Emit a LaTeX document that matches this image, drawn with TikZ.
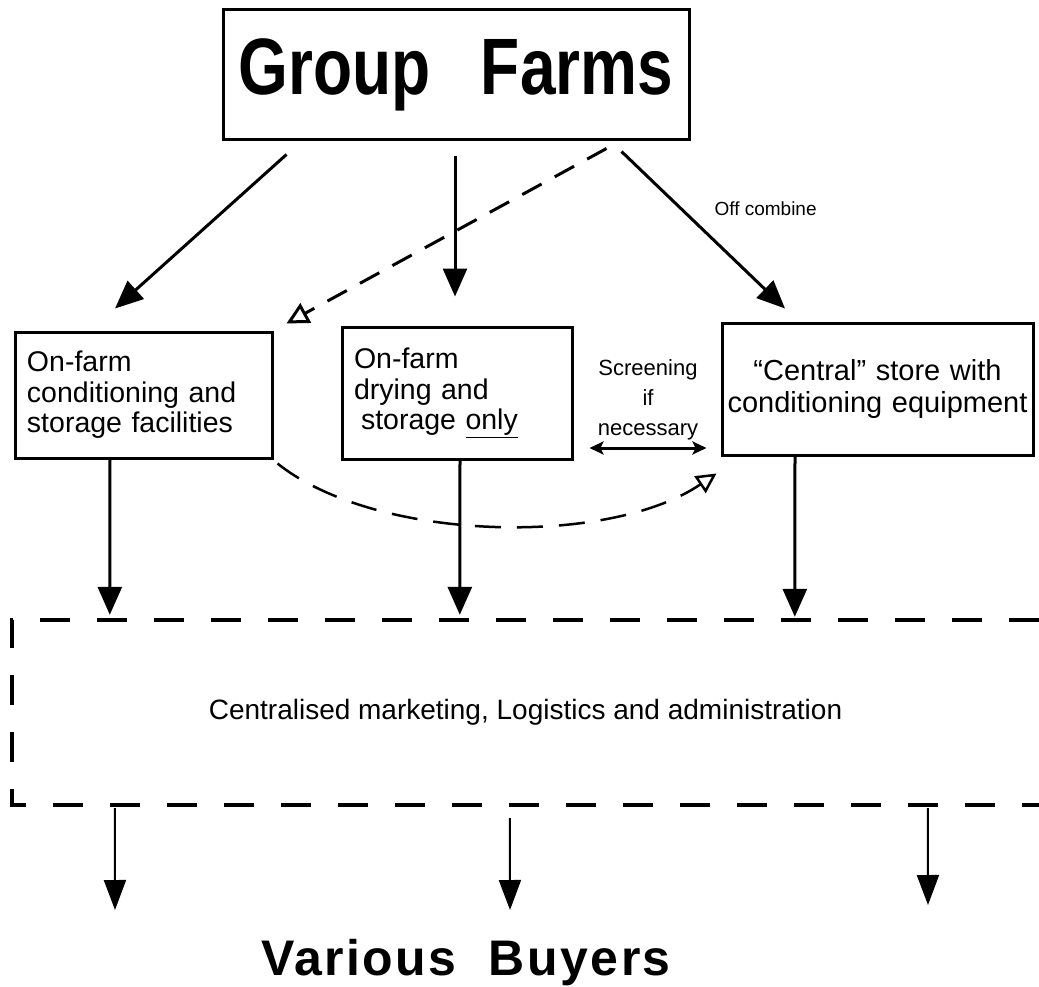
\documentclass[tikz,border=0pt]{standalone}
\usepackage{fontspec}
\setmainfont{Liberation Sans}
\newfontfamily\headfont[FakeStretch=0.8]{Liberation Sans}
\newfontfamily\buyfont[LetterSpace=5]{Liberation Sans}
\usetikzlibrary{arrows.meta}

\begin{document}
\begin{tikzpicture}[x=1pt,y=-1pt,
    store/.style={draw,line width=3pt,inner sep=12pt,minimum height=126pt,
        font={\fontsize{28.5}{30.5}\selectfont}},
    flow/.style={-{Triangle[length=28pt,width=24pt]},line width=3pt},
    dflow/.style={-{Triangle[open,length=22pt,width=22pt,line width=3pt]},
        line width=3pt,dash pattern=on 22pt off 15pt},
    sell/.style={-{Triangle[length=30pt,width=22pt]},line width=2pt},
    rim/.style={line width=4pt,dash pattern=on 30pt off 27pt}]

    \useasboundingbox (0,0) rectangle (1039,987);

    % the texts

    \node[draw,line width=3pt,minimum width=466pt,minimum height=130pt,
    font={\headfont\bfseries\fontsize{80}{80}\selectfont}] (farms) at (456,75)
    {Group\hspace{50pt}Farms};
    \node[store,text width=233pt,align=left] (onfarm) at (143.5,395)
    {On-farm\\conditioning and\\storage facilities};
    \node[store,text width=206pt,align=left,minimum height=132pt] (dryonly) at (457,393)
    {On-farm\\drying and\\\hspace*{7pt}storage \underline{only}};
    \node[store,inner sep=4pt,text width=303pt,align=center,minimum height=132pt,
    font={\fontsize{29}{32}\selectfont}] (central) at (877.5,389)
    {“Central” store with\\conditioning equipment};
    \node[align=center,font={\fontsize{22}{30}\selectfont}] (screen) at (648,400)
    {Screening\\if\\necessary};
    \node[anchor=base west,font={\fontsize{19}{21}\selectfont}] (offc) at (711,216) {Off combine};
    \node[minimum width=1027pt,minimum height=185pt,
    font={\fontsize{28}{30}\selectfont}] (admin) at (525.5,712.5)
    {Centralised marketing, Logistics and administration};
    \node[anchor=base,font={\buyfont\bfseries\fontsize{50}{50}\selectfont}] (buyers) at (466,975)
    {Various\hspace{32pt}Buyers};

    \coordinate (b1) at (115,910);
    \coordinate (b2) at (510,910);
    \coordinate (b3) at (928,905);

    % from the farms

    \draw[flow] ([xshift=65pt,yshift=-13pt]farms.south west) to
    ([xshift=-28.5pt,yshift=22pt]onfarm.north);
    \draw[flow] ([xshift=-1pt,yshift=-15pt]farms.south) to
    ([xshift=-2pt,yshift=29pt]dryonly.north);
    \draw[flow] ([xshift=-69pt,yshift=-10pt]farms.south east) to
    ([xshift=-92.5pt,yshift=13pt]central.north);
    \draw[dflow] ([xshift=-84pt,yshift=-7pt]farms.south east) to
    ([xshift=13pt,yshift=7pt]onfarm.north east);

    % between the stores

    \draw[{Stealth[length=14pt,width=13pt,inset=3pt]}-{Stealth[length=14pt,width=13pt,inset=3pt]},
    line width=3pt]
    ([xshift=16pt,yshift=-55pt]dryonly.east) to ([xshift=-14pt,yshift=-59pt]central.west);
    \draw[-{Triangle[open,length=20pt,width=20pt,line width=2.5pt]},line width=2.5pt,
    dash pattern=on 26pt off 16pt]
    ([xshift=4pt,yshift=-4pt]onfarm.south east) .. controls (376,542) and (608,547) ..
    ([xshift=-4pt,yshift=-17pt]central.south west);

    % into the centre

    \draw[flow] ([xshift=-33.5pt]onfarm.south) to ([xshift=98pt,yshift=5pt]admin.north west);
    \draw[flow] ([xshift=3pt]dryonly.south) to ([xshift=448pt,yshift=5pt]admin.north west);
    \draw[flow] ([xshift=-82.5pt]central.south) to ([xshift=783pt,yshift=3pt]admin.north west);
    \draw[rim] (admin.north east) -- (admin.north west) -- (admin.south west) -- (admin.south east);

    % to the buyers

    \draw[sell] ([xshift=103pt,yshift=-3pt]admin.south west) to (b1);
    \draw[sell] ([xshift=498pt,yshift=-13pt]admin.south west) to (b2);
    \draw[sell] ([xshift=916pt,yshift=-3pt]admin.south west) to (b3);
\end{tikzpicture}
\end{document}
